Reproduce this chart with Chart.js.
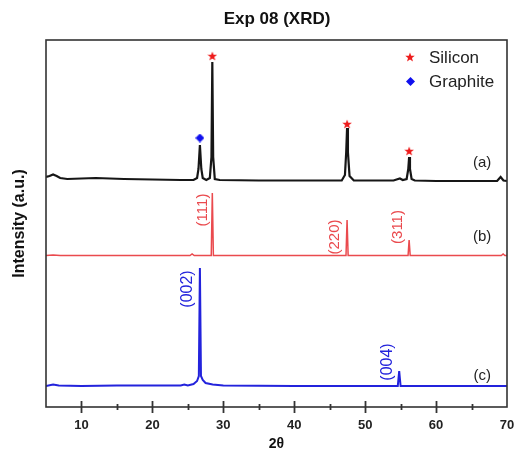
<!DOCTYPE html>
<html>
<head>
<meta charset="utf-8">
<script src="https://cdn.jsdelivr.net/npm/chart.js@4/dist/chart.umd.min.js"></script>
<style>
  html, body { margin: 0; padding: 0; background: #ffffff; }
  #wrap { width: 516px; height: 453px; }
</style>
</head>
<body>
<div id="wrap"><canvas id="c" width="516" height="453"></canvas></div>
<script>
// ---- Data (2θ in degrees, intensity in arbitrary units incl. stacking offset) ----
const chartTitle = 'Exp 08 (XRD)';
const xTickLabels = ['10', '20', '30', '40', '50', '60', '70'];

// (a) composite sample (black)
const twoThetaA = [5.0, 5.5, 6.0, 6.5, 7.0, 8.0, 10.0, 12.0, 14.0, 16.0, 20.0, 24.0, 25.8, 26.3, 26.5, 26.7, 26.9, 27.1, 27.6, 28.1, 28.33, 28.45, 28.57, 28.8, 29.5, 35.0, 40.0, 46.7, 47.15, 47.33, 47.45, 47.57, 47.8, 48.4, 54.0, 54.9, 55.3, 55.85, 56.08, 56.2, 56.32, 56.55, 57.0, 60.0, 68.6, 69.1, 69.5, 70.0];
const intensityA = [230, 231, 232.5, 231, 229, 228, 228.5, 229, 228.5, 228, 227.5, 227, 227, 229, 238, 262, 238, 229, 227, 229, 250, 345, 250, 228, 227, 226.5, 226.5, 226.5, 232, 255, 279, 255, 231, 226.5, 226.5, 228.5, 227, 228, 238, 250, 238, 228, 226.5, 226, 226, 230, 226.5, 226];

// (b) silicon (red)
const twoThetaB = [5.0, 6.0, 7.0, 25.3, 25.6, 25.9, 28.3, 28.45, 28.6, 47.3, 47.45, 47.6, 56.05, 56.2, 56.35, 69.2, 69.45, 69.7, 70.0];
const intensityB = [151.5, 152, 151.5, 151.5, 153, 151.5, 151.5, 214, 151.5, 151.5, 187, 151.5, 151.5, 167, 151.5, 151.5, 153, 151.5, 151.5];

// (c) graphite (blue)
const twoThetaC = [5.0, 6.0, 6.8, 10.0, 15.0, 20.0, 24.0, 24.5, 25.0, 25.8, 26.3, 26.55, 26.7, 26.85, 27.1, 27.5, 28.5, 30.0, 40.0, 54.6, 54.8, 55.0, 70.0];
const intensityC = [21, 22.5, 21.5, 21, 21.5, 21.5, 21.5, 22.5, 21.5, 23, 26, 31, 139, 31, 27, 24, 22.5, 21.5, 21, 21, 36, 21, 21];

// peak markers on trace (a)
const siliconMarkX = [28.45, 47.45, 56.2];
const siliconMarkY = [351, 283, 256];
const graphiteMarkX = [26.7];
const graphiteMarkY = [269];

// reflection labels
const hklSi = ['(111)', '(220)', '(311)'];
const hklC = ['(002)', '(004)'];
const traceNames = ['(a)', '(b)', '(c)'];
const legendNames = ['Silicon', 'Graphite'];

// ---- helpers ----
const zip = (xs, ys) => xs.map((x, i) => ({ x: x, y: ys[i] }));

function makeStar(color, size) {
  const c = document.createElement('canvas');
  c.width = size; c.height = size;
  const g = c.getContext('2d');
  const cx = size / 2, cy = size / 2 + 0.4, R = size / 2, r = R * 0.42;
  g.beginPath();
  for (let i = 0; i < 10; i++) {
    const rad = i % 2 === 0 ? R : r;
    const a = -Math.PI / 2 + i * Math.PI / 5;
    const px = cx + rad * Math.cos(a), py = cy + rad * Math.sin(a);
    if (i === 0) g.moveTo(px, py); else g.lineTo(px, py);
  }
  g.closePath();
  g.fillStyle = color; g.fill();
  return c;
}
function makeDiamond(color, size) {
  const c = document.createElement('canvas');
  c.width = size; c.height = size;
  const g = c.getContext('2d');
  g.beginPath();
  g.moveTo(size / 2, 0); g.lineTo(size, size / 2); g.lineTo(size / 2, size); g.lineTo(0, size / 2);
  g.closePath();
  g.fillStyle = color; g.fill();
  return c;
}
const starImg = makeStar('#ee1c1c', 10);
const diamondImg = makeDiamond('#1010ee', 9);

const COL_A = '#161616', COL_B = '#ea4a4e', COL_C = '#2323dc', TXT = '#222222';

// annotation placement (in data coordinates)
const annotations = [
  { text: hklSi[0], x: 27.05, y: 197, color: COL_B, size: 15, rot: true },
  { text: hklSi[1], x: 45.75, y: 170, color: COL_B, size: 15, rot: true },
  { text: hklSi[2], x: 54.65, y: 180, color: COL_B, size: 15, rot: true },
  { text: hklC[0], x: 25.0, y: 118, color: COL_C, size: 16, rot: true },
  { text: hklC[1], x: 53.2, y: 45, color: COL_C, size: 16, rot: true },
  { text: traceNames[0], x: 66.5, y: 244, color: TXT, size: 15, rot: false },
  { text: traceNames[1], x: 66.5, y: 170, color: TXT, size: 15, rot: false },
  { text: traceNames[2], x: 66.5, y: 31, color: TXT, size: 15, rot: false }
];

const decor = {
  id: 'decor',
  afterDraw(chart) {
    const ctx = chart.ctx, a = chart.chartArea;
    const xs = chart.scales.x, ys = chart.scales.y;
    ctx.save();
    // frame
    ctx.strokeStyle = '#333333';
    ctx.lineWidth = 1.6;
    ctx.strokeRect(a.left, a.top, a.right - a.left, a.bottom - a.top);
    // ticks crossing bottom axis
    ctx.lineWidth = 1.8;
    for (let v = 10; v <= 65; v += 5) {
      const px = Math.round(xs.getPixelForValue(v)) + 0.5;
      const h = (v % 10 === 0) ? 6 : 3;
      ctx.beginPath();
      ctx.moveTo(px, a.bottom - h); ctx.lineTo(px, a.bottom + h);
      ctx.stroke();
    }
    // title
    ctx.fillStyle = '#111111';
    ctx.font = 'bold 17px "Liberation Sans", Arial, sans-serif';
    ctx.textAlign = 'center'; ctx.textBaseline = 'middle';
    ctx.fillText(chartTitle, 277, 19);
    // annotations
    annotations.forEach(an => {
      const px = xs.getPixelForValue(an.x), py = ys.getPixelForValue(an.y);
      ctx.save();
      ctx.translate(px, py);
      if (an.rot) ctx.rotate(-Math.PI / 2);
      ctx.fillStyle = an.color;
      ctx.font = an.size + 'px "Liberation Sans", Arial, sans-serif';
      ctx.textAlign = 'center'; ctx.textBaseline = 'middle';
      ctx.fillText(an.text, 0, 0);
      ctx.restore();
    });
    // legend
    ctx.drawImage(starImg, 405, 52);
    ctx.drawImage(diamondImg, 406, 77);
    ctx.fillStyle = TXT;
    ctx.font = '17px "Liberation Sans", Arial, sans-serif';
    ctx.textAlign = 'left'; ctx.textBaseline = 'middle';
    ctx.fillText(legendNames[0], 429, 58);
    ctx.fillText(legendNames[1], 429, 82);
    ctx.restore();
  }
};

new Chart(document.getElementById('c'), {
  type: 'line',
  data: {
    datasets: [
      { label: '(a)', data: zip(twoThetaA, intensityA), borderColor: COL_A, borderWidth: 2.2, pointRadius: 0, tension: 0 },
      { label: '(b)', data: zip(twoThetaB, intensityB), borderColor: COL_B, borderWidth: 1.5, pointRadius: 0, tension: 0 },
      { label: '(c)', data: zip(twoThetaC, intensityC), borderColor: COL_C, borderWidth: 2, pointRadius: 0, tension: 0 },
      { label: legendNames[0], data: zip(siliconMarkX, siliconMarkY), showLine: false, pointStyle: starImg, pointRadius: 5 },
      { label: legendNames[1], data: zip(graphiteMarkX, graphiteMarkY), showLine: false, pointStyle: diamondImg, pointRadius: 5 }
    ]
  },
  options: {
    responsive: false,
    animation: false,
    layout: { padding: { top: 40, right: 9, bottom: 0, left: 0 } },
    plugins: { legend: { display: false }, title: { display: false }, tooltip: { enabled: false } },
    scales: {
      x: {
        type: 'linear', min: 5, max: 70,
        grid: { display: false, drawTicks: false },
        border: { display: false },
        ticks: {
          stepSize: 5, autoSkip: false, maxRotation: 0, padding: 11,
          color: TXT, font: { family: '"Liberation Sans", Arial, sans-serif', size: 13, weight: 'bold' },
          callback: (v) => (v % 10 === 0 ? xTickLabels[v / 10 - 1] : '')
        },
        title: { display: true, text: '2θ', color: '#111111', padding: { top: 0, bottom: 0 },
          font: { family: '"Liberation Sans", Arial, sans-serif', size: 14, weight: 'bold' } },
        afterFit: (s) => { s.height = 46; s.paddingLeft = 0; s.paddingRight = 0; }
      },
      y: {
        type: 'linear', min: 0, max: 367,
        grid: { display: false, drawTicks: false },
        border: { display: false },
        ticks: { display: false },
        title: { display: true, text: 'Intensity (a.u.)', color: '#111111', padding: { top: 10, bottom: 0 },
          font: { family: '"Liberation Sans", Arial, sans-serif', size: 16, weight: 'bold' } },
        afterFit: (s) => { s.width = 46; s.paddingTop = 0; s.paddingBottom = 0; }
      }
    }
  },
  plugins: [decor]
});
</script>
</body>
</html>
